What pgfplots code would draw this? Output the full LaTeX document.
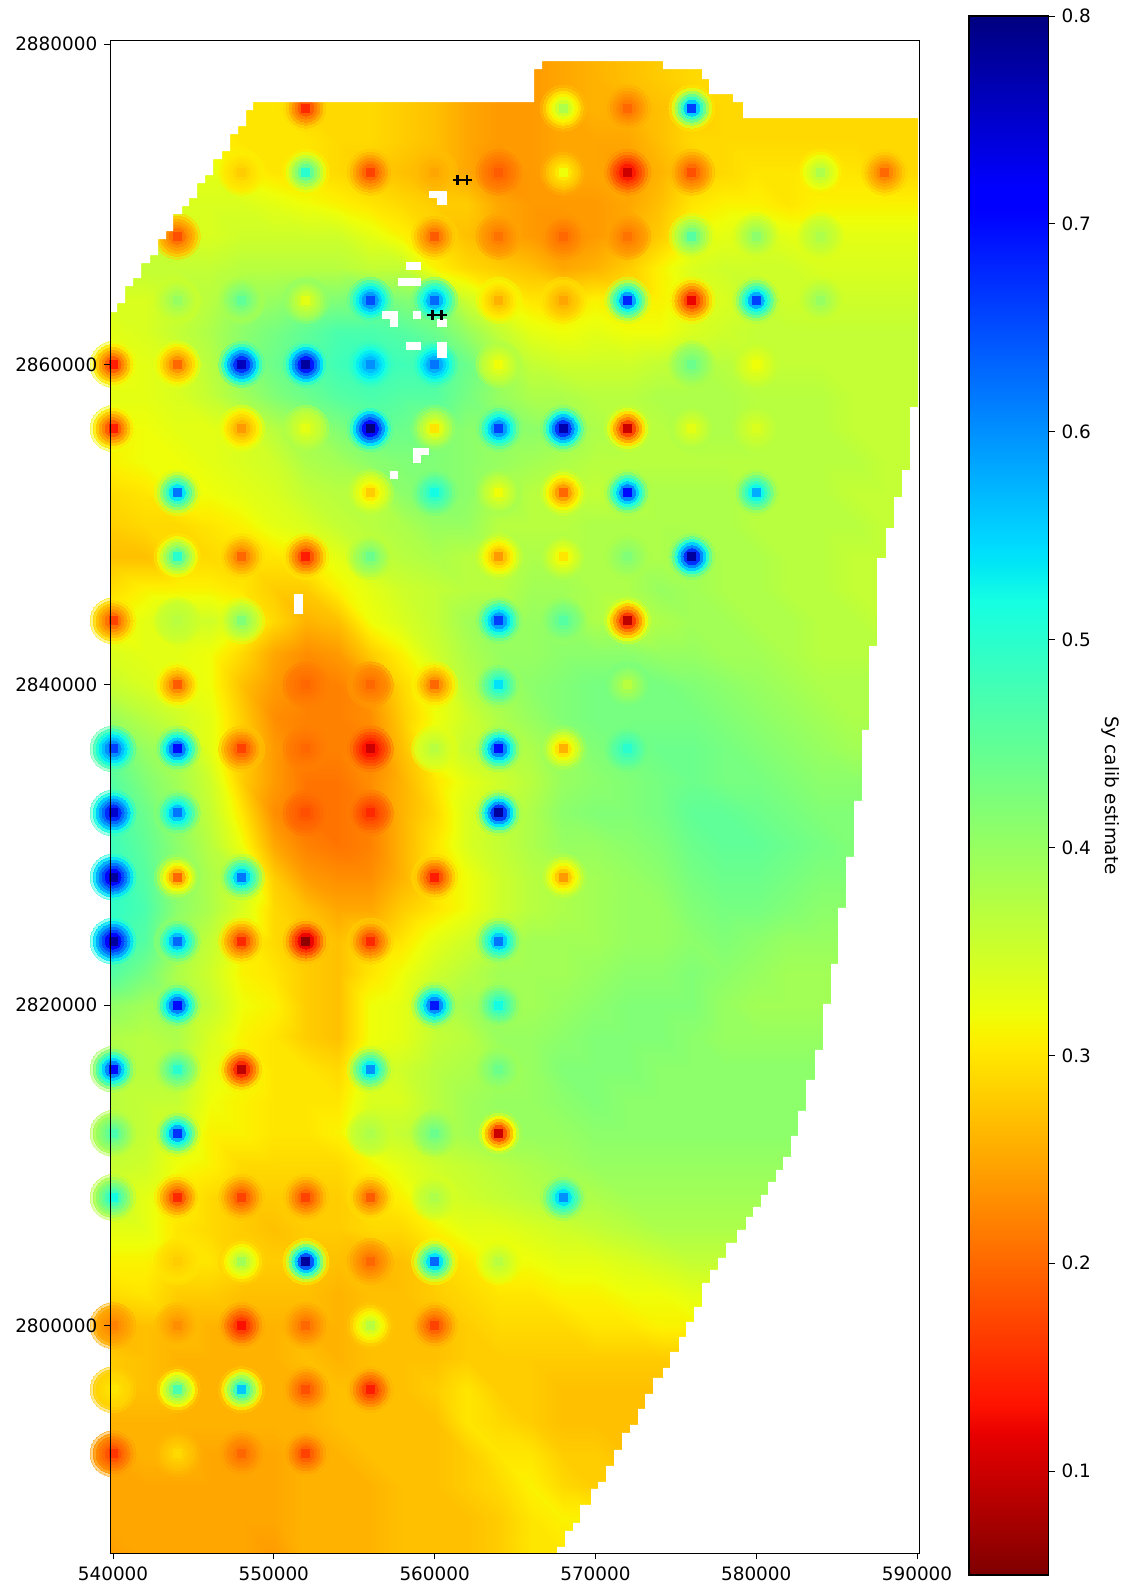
\documentclass[border=0pt]{standalone}
\usepackage{pgfplots}
\usepackage{pgfplotstable}
\usepackage{fontspec}
\setmainfont{DejaVu Sans}
\pgfplotsset{compat=1.18}
\pgfplotsset{colormap={jetr}{rgb(0pt)=(.5,0,0); rgb(90pt)=(.909,0,0); rgb(110pt)=(1,.074,0); rgb(340pt)=(1,.926,0); rgb(350pt)=(.968,.963,0); rgb(360pt)=(.935,1,.032); rgb(625pt)=(.0806,1,.887); rgb(650pt)=(0,.9,.968); rgb(660pt)=(0,.86,1); rgb(875pt)=(0,0,1); rgb(890pt)=(0,0,1); rgb(1000pt)=(0,0,.5)}}
\pgfplotstableread{
x y v b
552 2876 15 30
568 2876 38 26
572 2876 20 26
576 2876 66 28
548 2872 28 31
552 2872 50 30
556 2872 17 28
560 2872 25 27
564 2872 19 23
568 2872 32 25
572 2872 10 24
576 2872 18 27
584 2872 38 30
588 2872 20 29
544 2868 18 29
560 2868 19 29
564 2868 21 25
568 2868 20 24
572 2868 21 25
576 2868 46 33
580 2868 41 34
584 2868 38 34
544 2864 40 35
548 2864 45 38
552 2864 33 41
556 2864 65 44
560 2864 63 42
564 2864 26 32
568 2864 25 30
572 2864 68 33
576 2864 12 32
580 2864 66 36
584 2864 40 35
540 2860 14 33
544 2860 20 33
548 2860 76 44
552 2860 78 45
556 2860 60 48
560 2860 62 47
564 2860 32 38
576 2860 44 38
580 2860 32 36
540 2856 14 33
548 2856 24 33
552 2856 33 38
556 2856 80 44
560 2856 30 42
564 2856 66 41
568 2856 77 40
572 2856 10 37
576 2856 33 38
580 2856 34 37
544 2852 62 32
556 2852 28 37
560 2852 52 42
564 2852 32 39
568 2852 20 36
572 2852 70 37
580 2852 58 37
544 2848 50 29
548 2848 20 30
552 2848 14 31
556 2848 44 36
564 2848 24 36
568 2848 30 38
572 2848 42 38
576 2848 78 39
540 2844 17 31
544 2844 37 35
548 2844 42 33
564 2844 66 40
568 2844 46 40
572 2844 9 36
544 2840 19 33
552 2840 20 22
556 2840 20 24
560 2840 20 32
564 2840 54 39
572 2840 37 43
540 2836 66 45
544 2836 70 38
548 2836 17 28
552 2836 20 22
556 2836 10 22
560 2836 37 33
564 2836 70 37
568 2836 26 40
572 2836 50 43
540 2832 75 48
544 2832 62 40
552 2832 18 21
556 2832 15 22
564 2832 78 36
540 2828 78 50
544 2828 20 41
548 2828 62 36
560 2828 14 30
568 2828 24 38
540 2824 78 50
544 2824 63 39
548 2824 15 31
552 2824 6 28
556 2824 15 29
564 2824 62 38
544 2820 70 38
560 2820 69 37
564 2820 52 39
540 2816 70 37
544 2816 50 37
548 2816 9 32
556 2816 60 34
564 2816 44 39
540 2812 47 37
544 2812 67 34
556 2812 38 35
560 2812 44 38
564 2812 10 40
540 2808 52 36
544 2808 15 31
548 2808 17 28
552 2808 17 28
556 2808 19 30
560 2808 38 34
568 2808 60 38
544 2804 28 30
548 2804 39 28
552 2804 78 28
556 2804 20 26
560 2804 63 30
564 2804 37 32
540 2800 22 26
544 2800 23 27
548 2800 13 26
552 2800 20 26
556 2800 37 27
560 2800 17 27
540 2796 30 28
544 2796 47 26
548 2796 56 26
552 2796 18 26
556 2796 14 27
540 2792 16 25
544 2792 29 26
548 2792 20 25
552 2792 17 26
}\pilots
\newcommand\ring[3]{\addplot[only marks,scatter,mark=*,mark size=#1pt,mark options={line width=0pt,opacity=#3},
  scatter/use mapped color={draw=mapped color,fill=mapped color},
  point meta={\thisrow{b}+(\thisrow{v}-\thisrow{b})*#2}]
  table[x expr=\thisrow{x}*1000,y expr=\thisrow{y}*1000]{\pilots};}
\newcommand\wrect[4]{\addplot[fill=white,draw=none] table[row sep=\\,x expr={540000+(\thisrow{px}-113)/16.08*1000},y expr={2880000-(\thisrow{py}-44)/16.02*1000}]{px py\\ #1 #3\\ #2 #3\\ #2 #4\\ #1 #4\\};}
\begin{document}
\begin{tikzpicture}
\path[use as bounding box] (0,0) rectangle (563.5pt,795.5pt);
\begin{axis}[
  at={(55.15pt,18.75pt)},anchor=south west,scale only axis,
  width=404.5pt,height=756.4pt,
  xmin=539830,xmax=590140,ymin=2785770,ymax=2880210,
  hide axis,
  colormap name=jetr,point meta min=5,point meta max=80,
]
\addplot[surf,shader=interp,mesh/cols=26,mesh/ordering=x varies,point meta=explicit]
 table[row sep=\\,header=false,meta index=0,
  x expr={539400+600*ifthenelse(\coordindex-26*floor((\coordindex+0.5)/26)>0.5,1,0)+2000*(\coordindex-26*floor((\coordindex+0.5)/26))+200*ifthenelse(\coordindex-26*floor((\coordindex+0.5)/26)>24.5,1,0)},
  y expr={2785500+500*ifthenelse(\coordindex>25.5,1,0)+2000*floor((\coordindex+0.5)/26)}]{
24\\25\\25\\25\\25\\24\\26\\26\\26\\27\\27\\27\\28\\30\\30\\30\\30\\30\\30\\30\\30\\30\\30\\30\\30\\30\\
25\\25\\25\\25\\25\\25\\26\\26\\26\\27\\27\\27\\28\\30\\31\\31\\31\\31\\31\\31\\31\\31\\31\\31\\31\\31\\
25\\25\\25\\25\\25\\25\\26\\26\\26\\27\\27\\28\\29\\31\\29\\28\\28\\28\\28\\28\\28\\28\\28\\28\\28\\28\\
25\\26\\26\\25\\25\\25\\26\\26\\27\\27\\27\\28\\30\\30\\28\\28\\27\\27\\27\\27\\27\\27\\27\\27\\27\\27\\
26\\26\\26\\26\\26\\26\\26\\27\\27\\27\\27\\30\\29\\28\\27\\27\\27\\27\\27\\27\\27\\27\\27\\27\\27\\27\\
27\\27\\26\\26\\26\\26\\26\\27\\27\\27\\28\\30\\28\\28\\27\\27\\27\\27\\27\\27\\27\\27\\27\\27\\27\\27\\
28\\27\\26\\26\\26\\26\\27\\26\\27\\27\\27\\28\\28\\28\\28\\28\\28\\28\\28\\28\\28\\28\\28\\28\\28\\28\\
26\\27\\27\\26\\26\\26\\26\\26\\27\\27\\27\\28\\29\\29\\29\\30\\30\\31\\31\\31\\31\\31\\31\\31\\31\\31\\
29\\30\\28\\28\\27\\27\\27\\26\\27\\27\\28\\29\\30\\30\\31\\31\\32\\32\\33\\33\\33\\33\\33\\33\\33\\33\\
31\\31\\30\\30\\28\\28\\28\\27\\26\\27\\29\\30\\32\\32\\33\\33\\34\\35\\36\\36\\36\\36\\36\\36\\36\\36\\
33\\33\\30\\29\\28\\27\\28\\28\\29\\29\\31\\33\\33\\34\\35\\36\\37\\38\\38\\38\\38\\38\\38\\38\\38\\38\\
36\\33\\31\\29\\28\\28\\28\\28\\30\\31\\34\\35\\36\\37\\38\\38\\39\\39\\39\\39\\39\\39\\39\\39\\39\\39\\
36\\35\\32\\31\\29\\29\\29\\29\\31\\33\\35\\36\\37\\38\\39\\40\\40\\40\\40\\40\\40\\40\\40\\40\\40\\40\\
37\\36\\34\\31\\31\\30\\30\\31\\35\\36\\38\\39\\40\\40\\40\\41\\41\\41\\41\\41\\41\\41\\41\\41\\41\\41\\
37\\36\\36\\32\\31\\30\\30\\30\\34\\34\\37\\39\\40\\40\\41\\42\\41\\41\\41\\41\\41\\41\\41\\41\\41\\41\\
37\\37\\37\\33\\32\\30\\30\\29\\34\\35\\37\\38\\39\\40\\42\\42\\42\\41\\41\\41\\41\\41\\41\\41\\41\\41\\
38\\37\\38\\34\\31\\30\\28\\27\\32\\33\\36\\37\\40\\40\\41\\42\\42\\42\\41\\40\\40\\40\\40\\40\\40\\40\\
41\\39\\38\\36\\32\\31\\28\\27\\32\\33\\37\\39\\39\\39\\40\\41\\42\\42\\42\\40\\39\\39\\39\\39\\39\\39\\
47\\43\\38\\35\\31\\30\\28\\27\\30\\32\\35\\37\\39\\39\\39\\40\\41\\41\\42\\41\\40\\39\\39\\39\\39\\39\\
50\\46\\39\\36\\31\\29\\28\\27\\29\\30\\33\\35\\38\\39\\39\\39\\40\\40\\41\\42\\41\\40\\40\\40\\40\\40\\
50\\47\\41\\38\\34\\29\\27\\25\\25\\28\\30\\32\\35\\37\\38\\39\\40\\40\\42\\43\\43\\42\\41\\41\\41\\41\\
50\\46\\41\\38\\36\\28\\24\\23\\23\\26\\30\\32\\35\\37\\38\\39\\40\\41\\43\\44\\44\\43\\42\\42\\42\\42\\
49\\45\\41\\37\\32\\25\\22\\21\\22\\26\\30\\34\\36\\38\\40\\40\\41\\42\\44\\45\\45\\44\\43\\42\\42\\42\\
48\\44\\40\\36\\30\\23\\21\\21\\22\\26\\29\\34\\36\\38\\41\\42\\42\\43\\45\\45\\44\\43\\42\\42\\42\\42\\
47\\42\\39\\35\\28\\24\\21\\21\\23\\26\\30\\33\\35\\37\\40\\41\\42\\43\\44\\43\\43\\42\\41\\41\\41\\41\\
45\\40\\38\\33\\28\\24\\22\\22\\22\\27\\33\\36\\37\\38\\40\\42\\43\\44\\44\\43\\42\\41\\40\\39\\39\\39\\
40\\37\\35\\33\\28\\23\\22\\22\\23\\28\\32\\35\\38\\40\\42\\43\\43\\43\\43\\42\\41\\40\\39\\38\\38\\38\\
36\\34\\33\\32\\27\\24\\22\\22\\24\\29\\32\\37\\39\\41\\42\\43\\43\\43\\42\\41\\40\\39\\38\\38\\38\\38\\
34\\33\\33\\32\\29\\25\\23\\24\\28\\31\\35\\38\\40\\40\\41\\41\\41\\40\\40\\39\\39\\38\\37\\37\\37\\37\\
31\\33\\35\\35\\33\\29\\26\\27\\32\\34\\36\\39\\40\\40\\40\\38\\36\\38\\39\\39\\38\\38\\37\\37\\36\\36\\
29\\31\\31\\31\\30\\28\\28\\31\\33\\35\\36\\37\\37\\39\\39\\38\\38\\40\\39\\38\\38\\37\\37\\36\\36\\36\\
27\\27\\29\\29\\30\\30\\31\\33\\36\\37\\38\\37\\36\\38\\38\\38\\38\\38\\39\\38\\38\\37\\37\\36\\36\\36\\
28\\29\\29\\30\\31\\33\\34\\36\\37\\38\\40\\40\\37\\37\\37\\38\\38\\38\\38\\38\\37\\37\\37\\37\\36\\36\\
29\\30\\32\\32\\33\\34\\36\\37\\37\\41\\42\\41\\39\\37\\36\\36\\37\\38\\38\\38\\37\\37\\37\\36\\36\\36\\
31\\32\\32\\33\\34\\35\\38\\39\\41\\42\\42\\41\\40\\39\\38\\37\\37\\37\\37\\37\\37\\37\\37\\37\\36\\36\\
31\\32\\33\\33\\34\\37\\39\\42\\44\\44\\42\\41\\41\\41\\40\\38\\37\\37\\38\\38\\37\\37\\37\\36\\36\\36\\
33\\33\\34\\36\\39\\42\\44\\46\\47\\46\\46\\43\\40\\38\\38\\37\\37\\38\\38\\38\\37\\37\\37\\36\\36\\36\\
32\\33\\34\\37\\41\\44\\46\\48\\49\\48\\47\\44\\39\\36\\35\\35\\35\\36\\38\\37\\36\\36\\36\\36\\36\\36\\
33\\34\\36\\38\\41\\43\\45\\47\\47\\46\\44\\40\\36\\33\\32\\33\\32\\32\\34\\35\\36\\36\\36\\36\\36\\36\\
34\\34\\35\\37\\39\\40\\41\\42\\44\\42\\41\\35\\32\\30\\30\\31\\31\\31\\33\\34\\36\\35\\35\\35\\35\\35\\
36\\36\\36\\36\\37\\37\\37\\37\\36\\36\\31\\29\\28\\27\\25\\26\\28\\31\\34\\35\\35\\35\\34\\34\\34\\34\\
35\\35\\34\\34\\35\\35\\35\\35\\33\\31\\29\\27\\25\\24\\23\\24\\25\\28\\32\\33\\34\\33\\33\\33\\33\\33\\
34\\34\\34\\34\\34\\33\\32\\31\\30\\29\\28\\28\\25\\24\\24\\24\\25\\27\\30\\31\\31\\30\\31\\31\\31\\31\\
33\\33\\33\\33\\31\\30\\30\\29\\28\\27\\26\\25\\23\\24\\25\\25\\24\\26\\28\\29\\30\\30\\30\\30\\29\\29\\
32\\32\\31\\31\\30\\30\\30\\29\\29\\28\\27\\25\\24\\24\\25\\25\\25\\27\\29\\29\\29\\29\\29\\29\\29\\29\\
31\\31\\31\\30\\30\\30\\29\\29\\29\\28\\27\\25\\24\\24\\25\\26\\26\\27\\28\\29\\29\\29\\29\\29\\29\\29\\
30\\30\\30\\30\\30\\30\\29\\29\\29\\28\\27\\25\\24\\24\\25\\26\\27\\28\\29\\29\\29\\29\\29\\29\\29\\29\\
30\\30\\30\\30\\30\\30\\29\\29\\29\\28\\27\\25\\24\\24\\25\\26\\27\\28\\29\\29\\29\\29\\29\\29\\29\\29\\
};
\ring{11.5}{0.06}{0.45}
\ring{10}{0.15}{0.75}
\ring{8.5}{0.28}{1}
\ring{7}{0.42}{1}
\ring{5.5}{0.55}{1}
\ring{4}{0.72}{1}
\addplot[only marks,scatter,mark=square*,mark size=2pt,mark options={line width=0pt},
  scatter/use mapped color={draw=mapped color,fill=mapped color},point meta=\thisrow{v}]
  table[x expr=\thisrow{x}*1000,y expr=\thisrow{y}*1000]{\pilots};
\end{axis}
\begin{axis}[
  at={(55.15pt,18.75pt)},anchor=south west,scale only axis,
  width=404.5pt,height=756.4pt,
  xmin=539830,xmax=590140,ymin=2785770,ymax=2880210,
  xtick={540000,550000,560000,570000,580000,590000},
  ytick={2800000,2820000,2840000,2860000,2880000},
  scaled ticks=false,
  tick align=outside,tick pos=lower,
  major tick length=3pt,
  every tick/.style={black,line width=.5pt},
  axis line style={line width=.6pt},
  ticklabel style={font=\fontsize{9.2}{11}\selectfont},
  xticklabel style={/pgf/number format/.cd,fixed,1000 sep={},assume math mode=true},
  yticklabel style={/pgf/number format/.cd,fixed,1000 sep={},assume math mode=true},
  axis on top=true,
]
% area outside the model domain
\addplot[fill=white,draw=none] table[x expr={540000+(\thisrow{px}-113)/16.08*1000},y expr={2880000-(\thisrow{py}-44)/16.02*1000}]{
px py
100 312
117 312
117 303
125 303
125 286
133 286
133 278
141 278
141 263
150 263
150 255
158 255
158 239
166 239
166 231
173 231
173 214
182 214
182 206
189 206
189 198
197 198
197 183
205 183
205 175
213 175
213 159
222 159
222 151
230 151
230 134
238 134
238 126
246 126
246 110
253 110
253 102
534 102
534 69
542 69
542 61
663 61
663 69
702 69
702 79
709 79
709 94
733 94
733 102
743 102
743 118
918 118
918 407
910 407
910 470
902 470
902 497
894 497
894 528
886 528
886 558
877 558
877 646
869 646
869 730
862 730
862 801
854 801
854 857
846 857
846 908
838 908
838 964
831 964
831 1004
823 1004
823 1050
815 1050
815 1080
806 1080
806 1111
798 1111
798 1136
791 1136
791 1157
783 1157
783 1170
776 1170
776 1182
768 1182
768 1195
761 1195
761 1207
753 1207
753 1217
746 1217
746 1230
737 1230
737 1243
726 1243
726 1258
718 1258
718 1270
710 1270
710 1283
702 1283
702 1307
694 1307
694 1322
686 1322
686 1337
679 1337
679 1352
670 1352
670 1368
663 1368
663 1378
653 1378
653 1394
645 1394
645 1409
638 1409
638 1425
630 1425
630 1433
622 1433
622 1450
614 1450
614 1466
606 1466
606 1482
598 1482
598 1489
591 1489
591 1505
580 1505
580 1523
573 1523
573 1531
565 1531
565 1547
557 1547
557 1560
930 1560
930 30
100 30
};
\wrect{429}{447}{191}{198}
\wrect{437}{447}{198}{205}
\wrect{406}{421}{262}{270}
\wrect{398}{421}{278}{286}
\wrect{382}{398}{311}{319}
\wrect{390}{398}{319}{327}
\wrect{413}{421}{311}{319}
\wrect{437}{447}{319}{327}
\wrect{406}{421}{342}{350}
\wrect{437}{447}{342}{358}
\wrect{421}{429}{448}{455}
\wrect{413}{421}{448}{463}
\wrect{390}{398}{471}{479}
\wrect{294}{303}{594}{614}
\addplot[only marks,mark=+,mark size=2.6pt,line width=1.3pt,black] coordinates {
(561436,2871510)(562000,2871510)(559860,2863080)(560440,2863080)};
\end{axis}
\begin{axis}[
  at={(484.5pt,8pt)},anchor=south west,scale only axis,
  width=39.75pt,height=779.5pt,
  xmin=0,xmax=1,ymin=0.05,ymax=0.8,
  xtick=\empty,
  ytick={0.1,0.2,0.3,0.4,0.5,0.6,0.7,0.8},
  yticklabel pos=right,ytick pos=right,
  tick align=outside,
  major tick length=3pt,
  every tick/.style={black,line width=.5pt},
  axis line style={line width=.6pt},
  ticklabel style={font=\fontsize{9.2}{11}\selectfont},
  yticklabel style={/pgf/number format/.cd,fixed,fixed zerofill,precision=1,assume math mode=true},
  ylabel={Sy calib estimate},
  ylabel style={at={(axis description cs:1.786,0.5)},rotate=180,anchor=center,font=\fontsize{9.2}{11}\selectfont},
  colormap name=jetr,point meta min=0.05,point meta max=0.8,
  axis on top=true,
]
\addplot[surf,shader=interp,mesh/cols=2,mesh/ordering=x varies,point meta=y] table{
x y
0 0.05
1 0.05
0 0.8
1 0.8
};
\end{axis}
\end{tikzpicture}
\end{document}
